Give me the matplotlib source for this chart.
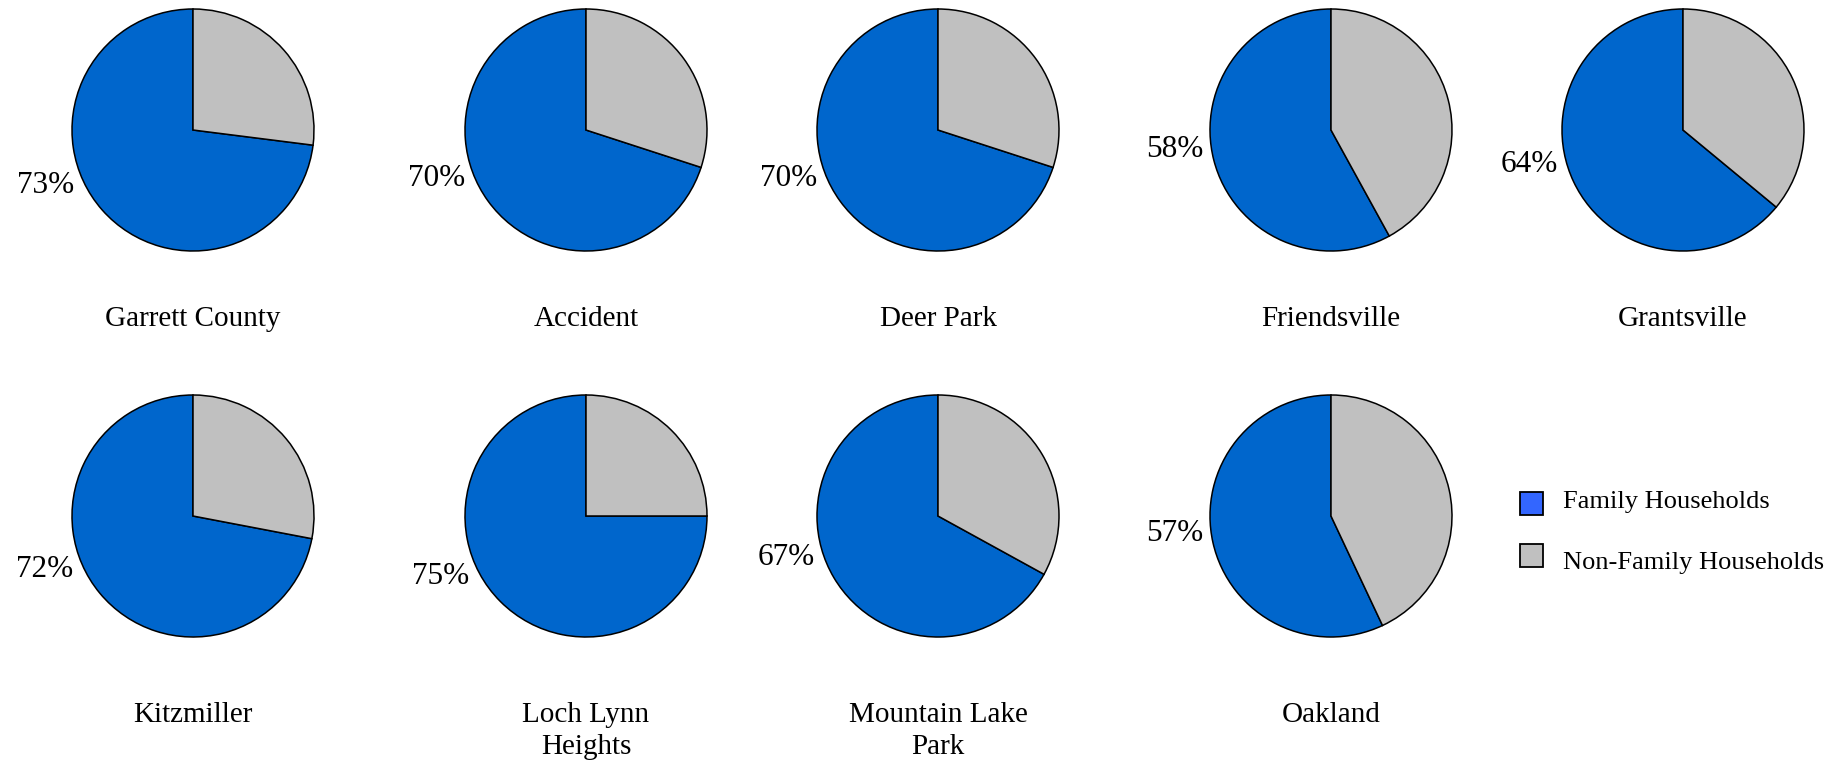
import matplotlib
matplotlib.use("Agg")
import matplotlib.pyplot as plt
from matplotlib.patches import Rectangle
import numpy as np

plt.rcParams['font.family'] = ['Liberation Serif', 'DejaVu Serif']

places = ["Garrett County", "Accident", "Deer Park", "Friendsville", "Grantsville",
          "Kitzmiller", "Loch Lynn\nHeights", "Mountain Lake\nPark", "Oakland"]
family_pct = [73, 70, 70, 58, 64, 72, 75, 67, 57]
nonfamily_pct = [27, 30, 30, 42, 36, 28, 25, 33, 43]
series_labels = ["Family Households", "Non-Family Households"]
pie_colors = ["#0066CC", "#C0C0C0"]
legend_colors = ["#3366FF", "#C0C0C0"]

W, H = 1836, 765
fig = plt.figure(figsize=(W / 100, H / 100), dpi=100)

col_x = [193, 586, 938, 1331, 1683]
row_y = [130, 516]
title_top = [306, 702]
radius_px = 121
box = 300

for i, name in enumerate(places):
    r, c = divmod(i, 5)
    cx, cy = col_x[c], row_y[r]
    ax = fig.add_axes([(cx - box / 2) / W, 1 - (cy + box / 2) / H, box / W, box / H])
    vals = [family_pct[i], nonfamily_pct[i]]
    ax.pie(vals, colors=pie_colors, startangle=90, counterclock=True,
           wedgeprops=dict(edgecolor="black", linewidth=1.1))
    L = (box / 2) / radius_px
    ax.set_xlim(-L, L)
    ax.set_ylim(-L, L)
    ax.set_aspect("equal")
    ax.axis("off")
    mid = 90 + family_pct[i] * 3.6 / 2
    ang = np.deg2rad(180 + (mid - 180) * 0.5)
    ax.text(1.3 * np.cos(ang), 1.3 * np.sin(ang), f"{family_pct[i]}%",
            ha="center", va="center", fontsize=22.5)
    fig.text(cx / W, 1 - title_top[r] / H, name, ha="center", va="top", fontsize=21,
             linespacing=1.3)

# legend
sq = 23
leg_x = 1520
patch_y = [503, 555]
text_y = [502, 563]
for k in range(2):
    fig.patches.append(Rectangle((leg_x / W, 1 - (patch_y[k] + sq / 2) / H), sq / W, sq / H,
                                 transform=fig.transFigure, facecolor=legend_colors[k],
                                 edgecolor="black", linewidth=1.3))
    fig.text(1563 / W, 1 - text_y[k] / H, series_labels[k], ha="left", va="center",
             fontsize=19)

fig.savefig("out.png", dpi=100, facecolor="white")
